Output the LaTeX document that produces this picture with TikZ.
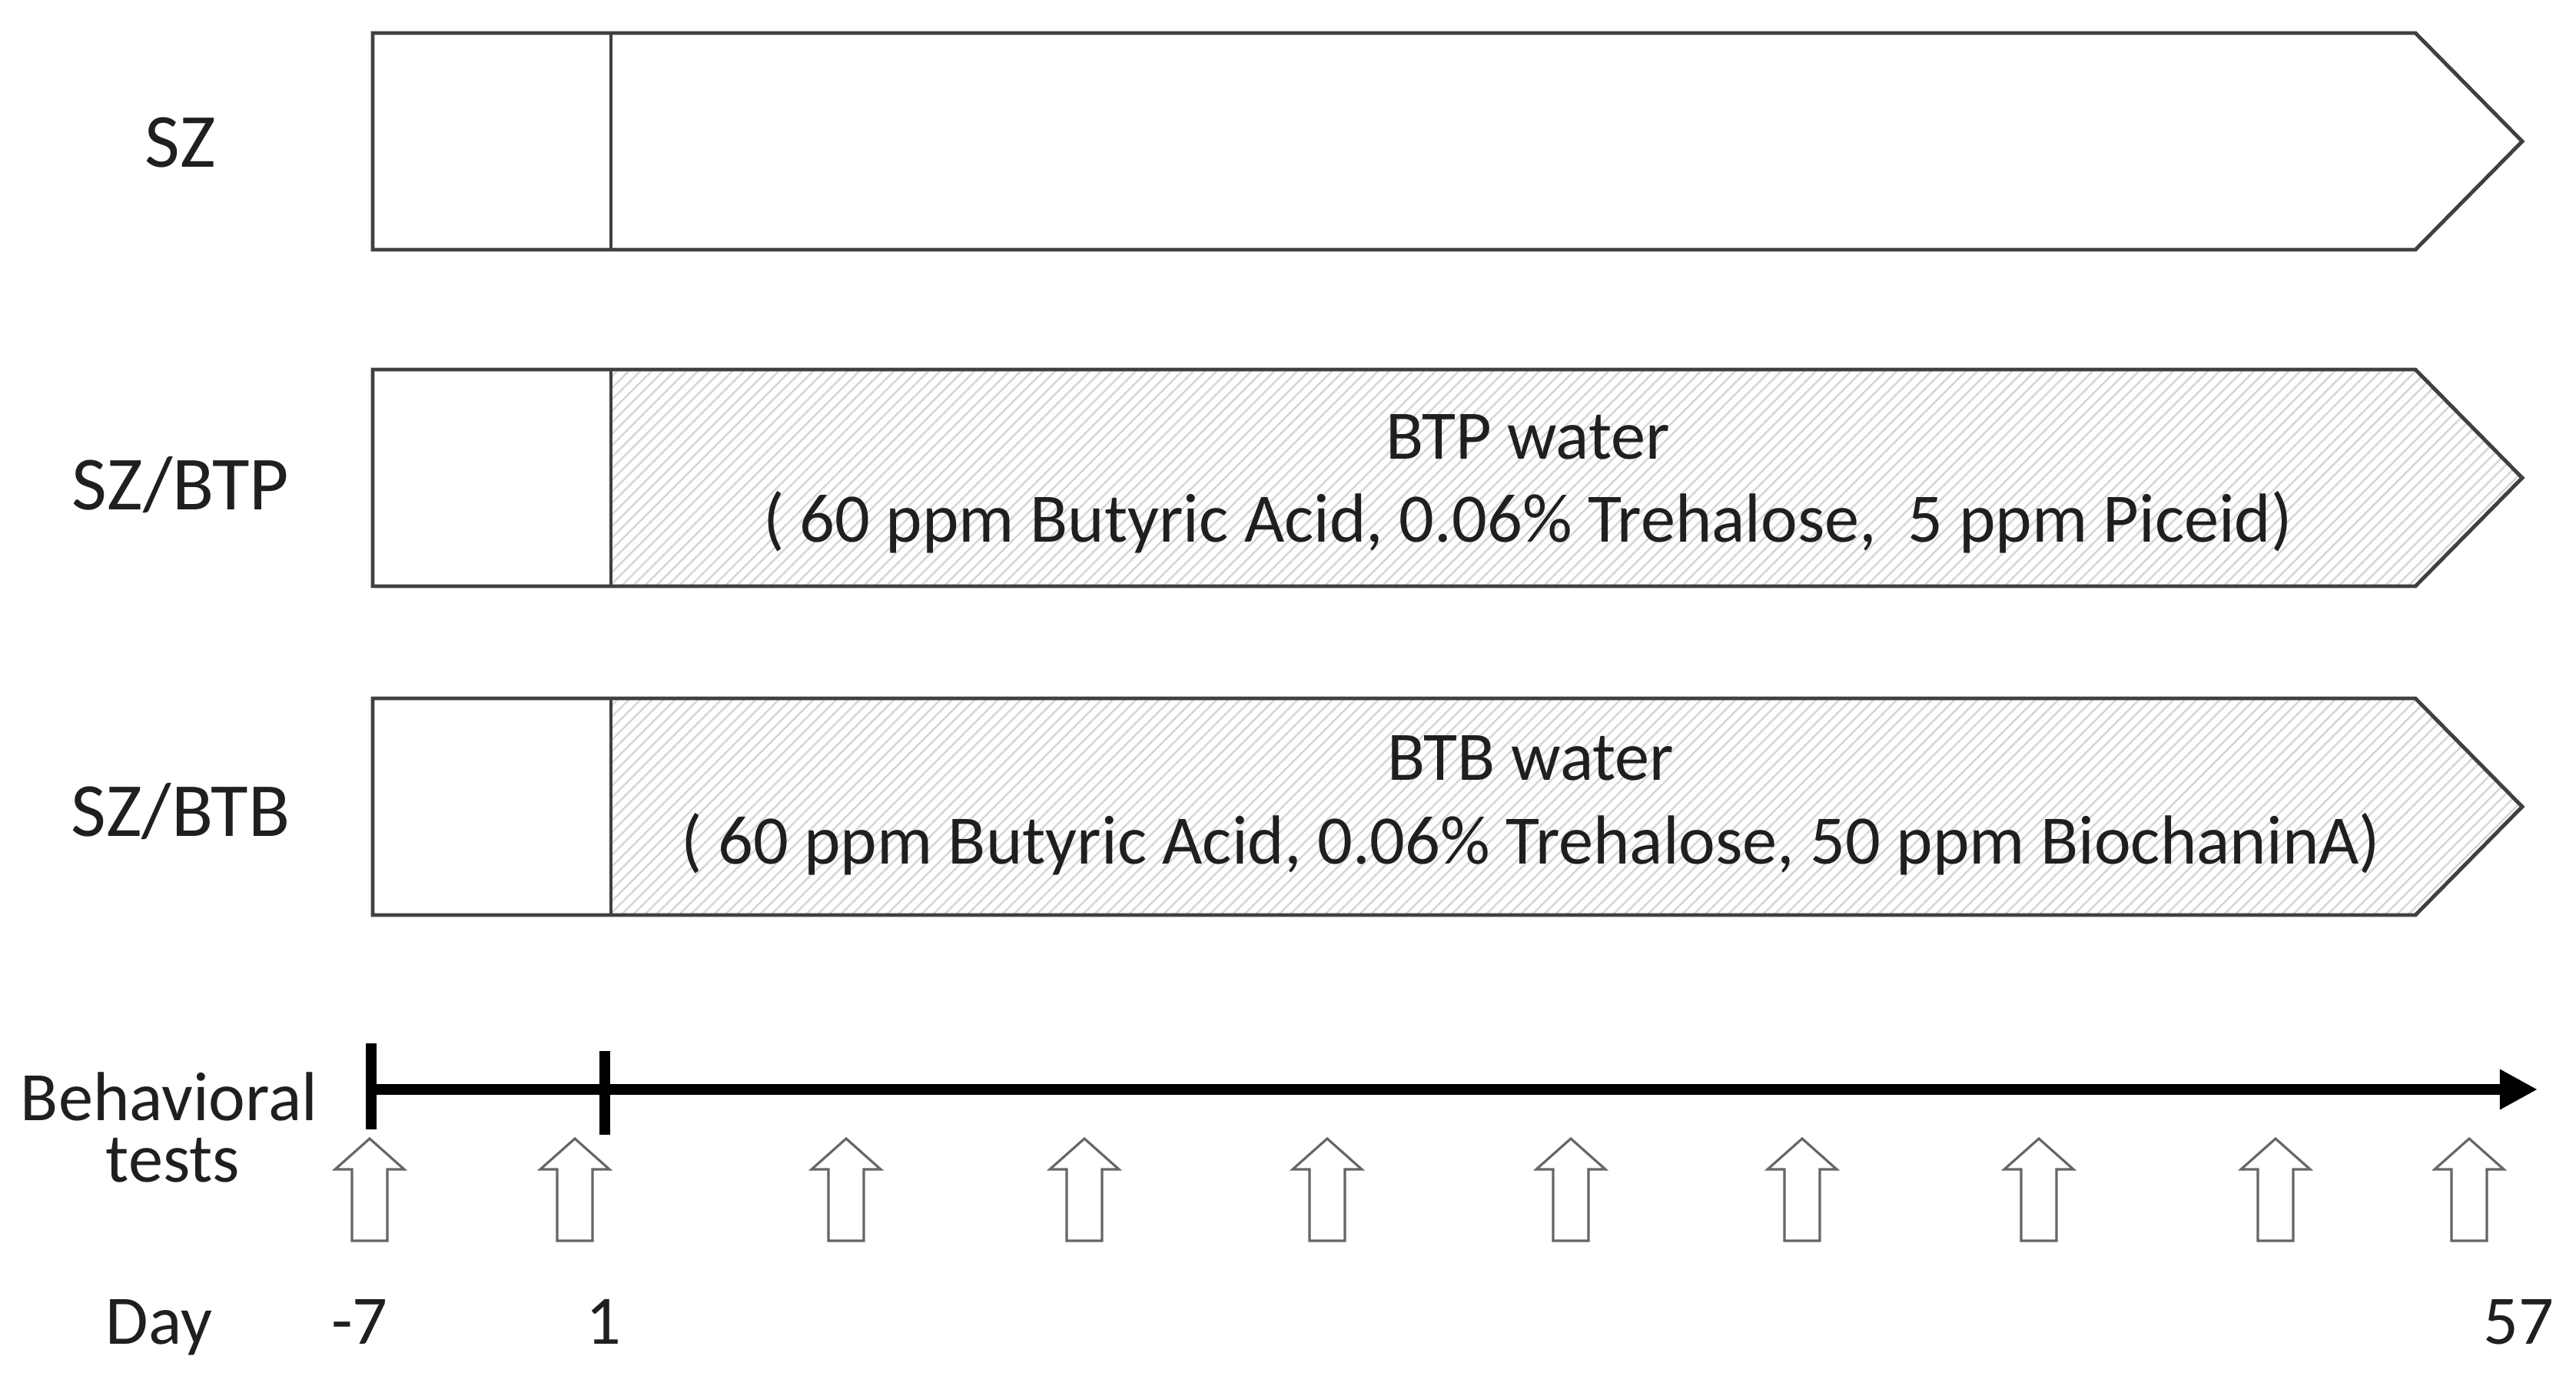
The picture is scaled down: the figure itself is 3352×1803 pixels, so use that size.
\documentclass[tikz,border=0pt]{standalone}
\usepackage{fontspec}
\setmainfont{Carlito}
\usetikzlibrary{arrows.meta}
\begin{document}
\begin{tikzpicture}[x=0.01cm,y=-0.01cm,
  boxline/.style={draw=black!75, line width=1.4pt, line join=miter},
  hatchline/.style={draw=black!16, line width=0.7pt},
  lbl/.style={font=\fontsize{28.3}{33}\selectfont, anchor=base, text=black!88, inner sep=0pt},
  body/.style={font=\fontsize{25.7}{30}\selectfont, anchor=base, text=black!88, inner sep=0pt},
  axisline/.style={line width=4pt, draw=black},
  testarrow/.style={draw=black!60, line width=0.9pt, fill=white, line join=miter}]
\useasboundingbox (0,0) rectangle (3352,1803);

% boxes
\foreach \t/\h in {43/0,481/1,909/1} {
  \ifnum\h=1
  \begin{scope}
    \clip (795,\t) -- (3143,\t) -- (3282,\t+141) -- (3143,\t+282) -- (795,\t+282) -- cycle;
    \foreach \xx in {500,515,...,3290}
      \draw[hatchline] (\xx,\t+290) -- ++(300,-300);
  \end{scope}
  \fi
  \draw[boxline] (485,\t) -- (3143,\t) -- (3282,\t+141) -- (3143,\t+282) -- (485,\t+282) -- cycle;
  \draw[boxline] (795,\t) -- (795,\t+282);
}

% labels
\node[lbl] (sz) at (235,218) {SZ};
\node[lbl] (szbtp) at (235,663) {SZ/BTP};
\node[lbl] (szbtb) at (235,1088) {SZ/BTB};

\node[body] (btp1) at (1988,597) {BTP water};
\node[body] (btp2) at (1988,705) {( 60 ppm Butyric Acid, 0.06\% Trehalose,\ \ 5 ppm Piceid)};
\node[body] (btb1) at (1992,1015) {BTB water};
\node[body] (btb2) at (1992,1124) {( 60 ppm Butyric Acid, 0.06\% Trehalose, 50 ppm BiochaninA)};

% timeline
\coordinate (ax0) at (483,1418);
\coordinate (ax1) at (3302,1418);
\draw[axisline,-{Triangle[length=14pt,width=14pt]}] (ax0) -- (ax1);
\coordinate (tk0a) at (483,1358); \coordinate (tk0b) at (483,1470);
\coordinate (tk1a) at (787,1368); \coordinate (tk1b) at (787,1477);
\draw[axisline] (tk0a) -- (tk0b);
\draw[axisline] (tk1a) -- (tk1b);

\foreach \cx in {481,748,1101,1411,1727,2044,2345,2653,2961,3213}
  \draw[testarrow] (\cx,1482) -- ++(45,40) -- ++(-22,0) -- ++(0,93) -- ++(-46,0) -- ++(0,-93) -- ++(-22,0) -- cycle;

\node[body] (beh) at (220,1458) {Behavioral};
\node[body] (tests) at (225,1538) {tests};
\node[body] (day) at (207,1749) {Day};
\node[body] (dm7) at (468,1749) {-7};
\node[body] (d1) at (785,1749) {1};
\node[body] (d57) at (3277,1749) {57};
\end{tikzpicture}
\end{document}
